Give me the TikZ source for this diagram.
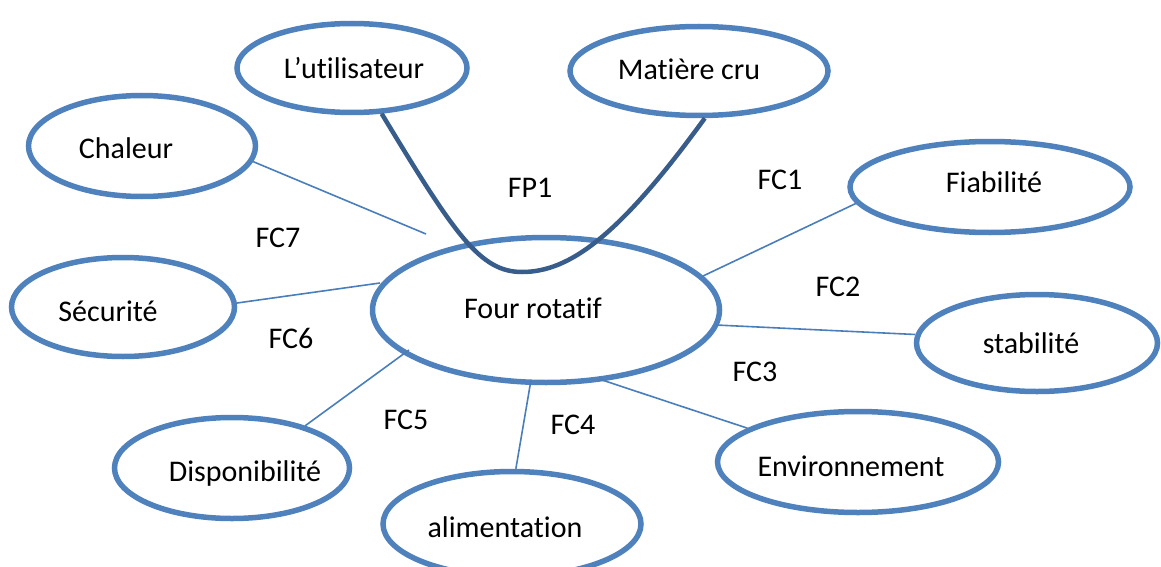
\documentclass[tikz,border=0pt]{standalone}
\usepackage{fontspec}
\setmainfont{Carlito}[Ligatures=NoCommon]
\usetikzlibrary{shapes.geometric}
\definecolor{ovalblue}{HTML}{4F81BD}
\definecolor{linkblue}{HTML}{4A7EBB}
\definecolor{fpblue}{HTML}{385D8A}
\begin{document}
\begin{tikzpicture}[x=1pt,y=-1pt,
    oval/.style={ellipse, draw=ovalblue, line width=5.5pt, inner sep=0pt},
    ovaltext/.style={font=\fontsize{30}{36}\selectfont, inner sep=0pt},
    link/.style={draw=linkblue, line width=1.6pt},
    fclabel/.style={font=\fontsize{30}{36}\selectfont}]
    \useasboundingbox (0,0) rectangle (1161,567);

    \node[oval, minimum width=230pt, minimum height=89pt] (user) at (352,68) {};
    \node[oval, minimum width=258pt, minimum height=89pt] (matiere) at (699,71) {};
    \node[oval, minimum width=227pt, minimum height=101pt] (chaleur) at (142,146) {};
    \node[oval, minimum width=280pt, minimum height=91pt] (fiab) at (990,187) {};
    \node[oval, minimum width=223pt, minimum height=99pt] (secu) at (123,307) {};
    \node[oval, minimum width=347pt, minimum height=145pt] (four) at (546,310) {};
    \node[oval, minimum width=241pt, minimum height=97pt] (stab) at (1037,343) {};
    \node[oval, minimum width=235pt, minimum height=101pt] (dispo) at (232,468) {};
    \node[oval, minimum width=258pt, minimum height=105pt] (alim) at (512,524) {};
    \node[oval, minimum width=281pt, minimum height=101pt] (env) at (858,462) {};

    \node[ovaltext] (tuser) at (354,68) {L’utilisateur};
    \node[ovaltext] (tmatiere) at (689,69) {Matière cru};
    \node[ovaltext] (tchaleur) at (126,148) {Chaleur};
    \node[ovaltext] (tfiab) at (994,182) {Fiabilité};
    \node[ovaltext] (tsecu) at (108,311) {Sécurité};
    \node[ovaltext] (tfour) at (533,308) {Four rotatif};
    \node[ovaltext] (tstab) at (1031,343) {stabilité};
    \node[ovaltext] (tdispo) at (245,473) {Disponibilité};
    \node[ovaltext] (talim) at (505,527) {alimentation};
    \node[ovaltext] (tenv) at (851,466) {Environnement};

    \coordinate (c1) at (703,276);
    \coordinate (c2) at (716,325);
    \coordinate (c3) at (599,379);
    \coordinate (c4) at (531,380);
    \coordinate (c5) at (409,350);
    \coordinate (c6) at (380,283);
    \coordinate (c7) at (426,234);

    \draw[link] (fiab.187) -- (c1);
    \draw[link] (stab.176) -- (c2);
    \draw[link] (env.163) -- (c3);
    \draw[link] (alim.86) -- (c4);
    \draw[link] (dispo.30) -- (c5);
    \draw[link] (secu.2) -- (c6);
    \draw[link] (chaleur.-8) -- (c7);

    \draw[fpblue, line width=4.5pt] (user.-57) .. controls (455,235) and (480,272) .. (522,272)
      .. controls (570,272) and (620,235) .. (matiere.-83);

    \node[fclabel] (fp1) at (530,188) {FP1};
    \node[fclabel] (fc1) at (780,180) {FC1};
    \node[fclabel] (fc2) at (838,287) {FC2};
    \node[fclabel] (fc3) at (755,372) {FC3};
    \node[fclabel] (fc4) at (573,425) {FC4};
    \node[fclabel] (fc5) at (406,420) {FC5};
    \node[fclabel] (fc6) at (291,338) {FC6};
    \node[fclabel] (fc7) at (278,238) {FC7};
\end{tikzpicture}
\end{document}
